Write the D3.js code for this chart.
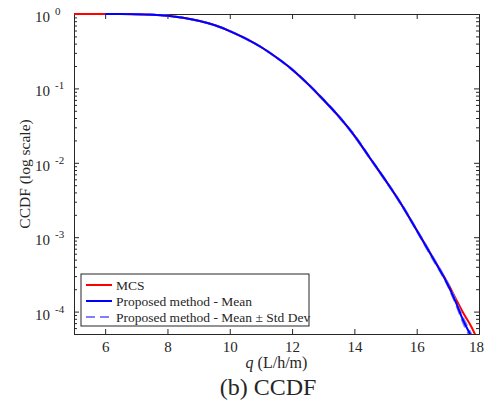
<!DOCTYPE html>
<html>
<head>
<meta charset="utf-8">
<script src="https://cdn.jsdelivr.net/npm/d3@7"></script>
<style>
  body { margin: 0; background: #fff; }
  text { font-family: "Liberation Serif", "DejaVu Serif", serif; fill: #262626; }
</style>
</head>
<body>
<svg id="chart" width="485" height="405"></svg>
<script>
// MCS reference CCDF
const qMcs = [5, 6, 6.5, 7, 7.5, 8, 8.5, 9, 9.5, 10, 10.5, 11, 11.5, 12, 12.5, 13, 13.5, 14, 14.5, 15, 15.5, 16, 16.5, 17, 17.25, 17.5, 17.75, 18];
const ccdfMcs = [1, 1, 0.999, 0.995, 0.98, 0.948, 0.89, 0.81, 0.71, 0.59, 0.47, 0.36, 0.26, 0.18, 0.115, 0.07, 0.042, 0.023, 0.0115, 0.0058, 0.0028, 0.00125, 0.00055, 0.00024, 0.00015, 0.000095, 0.000063, 0.000038];

// proposed method (mean and mean +/- std)
const qProp = [6, 6.5, 7, 7.5, 8, 8.5, 9, 9.5, 10, 10.5, 11, 11.5, 12, 12.5, 13, 13.5, 14, 14.5, 15, 15.5, 16, 16.5, 17, 17.25, 17.5, 17.75, 18];
const ccdfMean = [1, 0.999, 0.995, 0.98, 0.948, 0.89, 0.81, 0.71, 0.59, 0.47, 0.36, 0.26, 0.18, 0.116, 0.071, 0.042, 0.0232, 0.0116, 0.0058, 0.0028, 0.00124, 0.00054, 0.00023, 0.000135, 0.000075, 0.000046, 0.000025];
const ccdfUpper = [1, 0.999, 0.996, 0.981, 0.95, 0.893, 0.813, 0.713, 0.593, 0.473, 0.362, 0.262, 0.182, 0.117, 0.072, 0.0427, 0.0236, 0.0118, 0.0059, 0.00286, 0.00127, 0.00056, 0.000238, 0.000142, 0.000081, 0.00005, 0.000028];
const ccdfLower = [1, 0.998, 0.994, 0.979, 0.946, 0.887, 0.807, 0.707, 0.587, 0.467, 0.358, 0.258, 0.178, 0.115, 0.07, 0.0413, 0.0228, 0.0114, 0.0057, 0.00274, 0.00121, 0.00052, 0.000222, 0.000128, 0.000069, 0.000042, 0.000022];

const xTicks = [6, 8, 10, 12, 14, 16, 18];
const yTicks = [1, 0.1, 0.01, 0.001, 0.0001];
const legendLabels = ["MCS", "Proposed method - Mean", "Proposed method - Mean \u00b1 Std Dev"];

const margin = { top: 14, left: 74, right: 6, bottom: 71 };
const W = 485, H = 405;
const x0 = margin.left, x1 = W - margin.right, y0 = margin.top, y1 = H - margin.bottom;

const svg = d3.select("#chart");

const x = d3.scaleLinear().domain([5, 18]).range([x0, x1]);
const y = d3.scaleLog().domain([5e-5, 1]).range([y1, y0]);

svg.append("defs").append("clipPath").attr("id", "clip")
    .append("rect").attr("x", x0).attr("y", y0 - 2).attr("width", x1 - x0).attr("height", y1 - y0 + 2);

const axisColor = "#262626";

// axes box
const xAxisB = d3.axisBottom(x).tickValues(xTicks).tickSize(-5).tickPadding(7).tickFormat(d3.format("d"));
const xAxisT = d3.axisTop(x).tickValues(xTicks).tickSize(-5).tickFormat("");
const gxb = svg.append("g").attr("transform", `translate(0,${y1})`).call(xAxisB);
svg.append("g").attr("transform", `translate(0,${y0})`).call(xAxisT);

const minor = [];
for (let e = -5; e <= 0; e++) {
    for (let m = 2; m <= 9; m++) {
        const v = m * Math.pow(10, e);
        if (v >= 5e-5 && v < 1) minor.push(v);
    }
}
svg.append("g").attr("transform", `translate(${x0},0)`)
    .call(d3.axisLeft(y).tickValues(yTicks).tickSize(-5).tickFormat(""));
svg.append("g").attr("transform", `translate(${x1},0)`)
    .call(d3.axisRight(y).tickValues(yTicks).tickSize(-5).tickFormat(""));
svg.append("g").attr("transform", `translate(${x0},0)`)
    .call(d3.axisLeft(y).tickValues(minor).tickSize(-3).tickFormat(""))
    .select(".domain").remove();
svg.append("g").attr("transform", `translate(${x1},0)`)
    .call(d3.axisRight(y).tickValues(minor).tickSize(-3).tickFormat(""))
    .select(".domain").remove();

svg.selectAll(".domain").attr("stroke", axisColor).attr("stroke-width", 1);
svg.selectAll(".tick line").attr("stroke", axisColor);
gxb.selectAll(".tick text").attr("font-size", 15).attr("fill", axisColor)
    .style("font-family", "'Liberation Serif', serif")
    .attr("dx", d => d === 18 ? -3 : 0);

// curves, drawn over the box like MATLAB does
const line = d3.line().x(d => x(d[0])).y(d => y(d[1])).curve(d3.curveMonotoneX);
const plot = svg.append("g").attr("clip-path", "url(#clip)");

plot.append("path")
    .datum(d3.zip(qMcs, ccdfMcs))
    .attr("d", line).attr("fill", "none").attr("stroke", "#ff0000").attr("stroke-width", 2);

[ccdfUpper, ccdfLower].forEach(vals => {
    plot.append("path")
        .datum(d3.zip(qProp, vals))
        .attr("d", line).attr("fill", "none").attr("stroke", "#8080ff")
        .attr("stroke-width", 2).attr("stroke-dasharray", "9,5");
});

plot.append("path")
    .datum(d3.zip(qProp, ccdfMean))
    .attr("d", line).attr("fill", "none").attr("stroke", "#0000ff").attr("stroke-width", 2);

// y tick labels: 10^n
yTicks.forEach(v => {
    const e = Math.round(Math.log10(v));
    svg.append("text")
        .attr("x", 50).attr("y", y(v) + 8)
        .attr("text-anchor", "end").attr("font-size", 15).text("10");
    svg.append("text")
        .attr("x", 55).attr("y", y(v) + 1)
        .attr("text-anchor", "start").attr("font-size", 11)
        .text(e === 0 ? "0" : e);
});

// axis labels
const xl = svg.append("text").attr("x", (x0 + x1) / 2).attr("y", 368)
    .attr("text-anchor", "middle").attr("font-size", 16);
xl.append("tspan").attr("font-style", "italic").text("q");
xl.append("tspan").text(" (L/h/m)");

svg.append("text")
    .attr("transform", `translate(30,${(y0 + y1) / 2}) rotate(-90)`)
    .attr("text-anchor", "middle").attr("font-size", 15.5)
    .text("CCDF (log scale)");

svg.append("text").attr("x", 268).attr("y", 395)
    .attr("text-anchor", "middle").attr("font-size", 24).attr("fill", "#000")
    .text("(b) CCDF");

// legend
const lg = svg.append("g");
lg.append("rect").attr("x", 81).attr("y", 274).attr("width", 228).attr("height", 52)
    .attr("fill", "#fff").attr("stroke", axisColor).attr("stroke-width", 1);
const legendStyles = [
    { color: "#ff0000", dash: null },
    { color: "#0000ff", dash: null },
    { color: "#8080ff", dash: "9,5" }
];
legendLabels.forEach((label, i) => {
    const yy = 285 + i * 16;
    lg.append("line").attr("x1", 86).attr("x2", 112).attr("y1", yy).attr("y2", yy)
        .attr("stroke", legendStyles[i].color).attr("stroke-width", 2)
        .attr("stroke-dasharray", legendStyles[i].dash);
    lg.append("text").attr("x", 116).attr("y", yy + 4.5).attr("font-size", 13.5)
        .attr("fill", "#000").text(label);
});
</script>
</body>
</html>
